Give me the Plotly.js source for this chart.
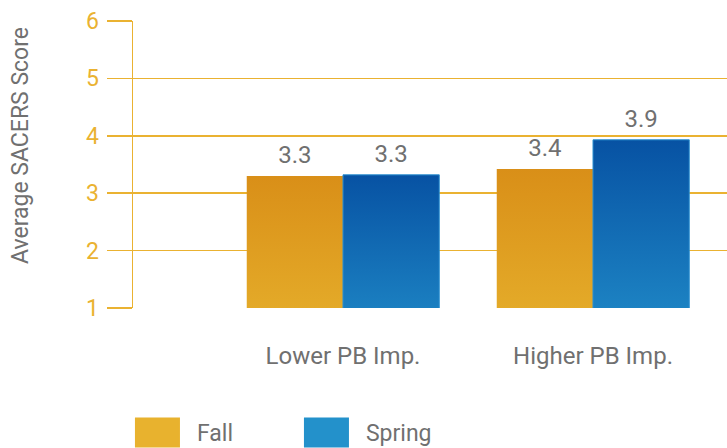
<!DOCTYPE html>
<html>
<head>
<meta charset="utf-8">
<script src="https://cdn.plot.ly/plotly-3.0.1.min.js"></script>
<style>
  html, body { margin: 0; padding: 0; background: #fff; }
  #chart { width: 727px; height: 448px; }
</style>
</head>
<body>
<div id="chart"></div>
<script>
(function(){
  // ---------- Data ----------
  const groups = ['Lower PB Imp.', 'Higher PB Imp.'];
  const fallScores = [3.3, 3.42];
  const springScores = [3.32, 3.93];
  const seriesNames = ['Fall', 'Spring'];
  const yTicks = [1, 2, 3, 4, 5, 6];

  // ---------- Style ----------
  const gold = '#EAB231';
  const grey = '#707070';
  const fontFam = 'Roboto, "Liberation Sans", sans-serif';
  const grads = {
    Fall:   { top: '#D98F18', bottom: '#E8B52F', legend: '#E8B22E' },
    Spring: { top: '#0752A3', bottom: '#2392CD', legend: '#2391CB' }
  };

  const traces = [
    {
      type: 'bar', name: seriesNames[0], x: groups, y: fallScores,
      marker: { color: grads.Fall.legend },
      texttemplate: '%{y:.1f}', textposition: 'outside',
      textfont: { size: 24, color: grey, family: fontFam },
      cliponaxis: false, hoverinfo: 'skip'
    },
    {
      type: 'bar', name: seriesNames[1], x: groups, y: springScores,
      marker: { color: grads.Spring.legend, line: { color: '#2A8FD0', width: 1 } },
      texttemplate: '%{y:.1f}', textposition: 'outside',
      textfont: { size: 24, color: grey, family: fontFam },
      cliponaxis: false, hoverinfo: 'skip'
    }
  ];

  const layout = {
    width: 727, height: 448,
    margin: { l: 133, r: 0, t: 21, b: 140, autoexpand: false },
    paper_bgcolor: '#fff', plot_bgcolor: '#fff',
    font: { family: fontFam, color: grey },
    barmode: 'group', bargap: 0.23, bargroupgap: 0,
    showlegend: true,
    legend: {
      orientation: 'h', x: -0.0085, xanchor: 'left', y: -0.359, yanchor: 'top',
      font: { size: 23, color: grey, family: fontFam },
      itemwidth: 59, entrywidthmode: 'pixels', entrywidth: 95,
      itemclick: false, itemdoubleclick: false
    },
    xaxis: {
      type: 'category', range: [-0.84, 1.536],
      showgrid: false, zeroline: false, showline: false, ticks: '',
      tickfont: { size: 24, color: grey, family: fontFam },
      ticklabelstandoff: 31, fixedrange: true
    },
    yaxis: {
      range: [1, 6], tickvals: yTicks,
      showgrid: true, gridcolor: gold, gridwidth: 1.5,
      zeroline: false, showline: true, linecolor: gold, linewidth: 1.5,
      ticks: 'outside', ticklen: 25, tickcolor: gold, tickwidth: 1.5,
      tickfont: { size: 23, color: gold, family: fontFam },
      ticklabelstandoff: 3,
      title: { text: 'Average SACERS Score', font: { size: 23, color: grey, family: fontFam }, standoff: 51 },
      fixedrange: true
    }
  };

  // ---------- Gradient fills and small tweaks Plotly has no option for ----------
  function applyGradients(gd){
    const svg = gd.querySelector('svg.main-svg');
    const ns = 'http://www.w3.org/2000/svg';
    let defs = svg.querySelector('defs');
    if(!defs){ defs = document.createElementNS(ns, 'defs'); svg.insertBefore(defs, svg.firstChild); }
    Object.keys(grads).forEach(function(name){
      const lg = document.createElementNS(ns, 'linearGradient');
      lg.setAttribute('id', 'grad' + name);
      lg.setAttribute('x1', '0'); lg.setAttribute('y1', '0');
      lg.setAttribute('x2', '0'); lg.setAttribute('y2', '1');
      [[0, grads[name].top], [1, grads[name].bottom]].forEach(function(s){
        const st = document.createElementNS(ns, 'stop');
        st.setAttribute('offset', s[0]);
        st.setAttribute('stop-color', s[1]);
        lg.appendChild(st);
      });
      defs.appendChild(lg);
    });
    gd.querySelectorAll('.barlayer .trace').forEach(function(tr, i){
      const name = seriesNames[i];
      tr.querySelectorAll('.point path').forEach(function(p){ p.style.fill = 'url(#grad' + name + ')'; });
      // lift value labels a little higher above the bars
      tr.querySelectorAll('.bartext').forEach(function(t){
        const y = parseFloat(t.getAttribute('y')) || 0;
        t.setAttribute('y', y - 4);
      });
    });
    // bigger legend swatches
    gd.querySelectorAll('.legend .legendpoints path').forEach(function(p){
      p.setAttribute('d', 'M17.5,15H-27.5V-15H17.5Z');
      p.style.stroke = 'none';
    });
    // y title sits a bit above the axis middle in the original
    const yt = gd.querySelector('.ytitle');
    if(yt){ yt.setAttribute('transform', 'translate(0,-19) ' + (yt.getAttribute('transform') || '')); }
  }

  const gd = document.getElementById('chart');
  Plotly.newPlot(gd, traces, layout, { displayModeBar: false, staticPlot: true }).then(applyGradients);
})();
</script>
</body>
</html>
